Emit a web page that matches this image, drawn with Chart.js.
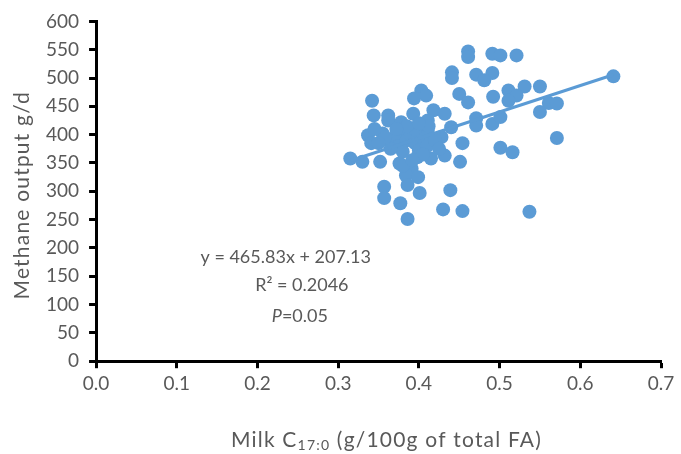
<!DOCTYPE html>
<html lang="en">
<head>
<meta charset="UTF-8">
<title>Methane output vs milk C17:0</title>
<script src="https://cdn.jsdelivr.net/npm/chart.js"></script>
<style>
    body { margin: 0; background: #fff; }
    #wrap { width: 681px; height: 454px; position: relative; }
</style>
</head>
<body>
<div id="wrap"><canvas id="chart"></canvas></div>
<script>
// milk C17:0 (g/100 g of total FA) and methane output (g/d) per cow
const milkC17 = [
    0.461, 0.461, 0.491, 0.501, 0.521, 0.441, 0.441, 0.471, 0.491, 0.481,
    0.511, 0.531, 0.550, 0.641, 0.450, 0.461, 0.492, 0.521, 0.511, 0.561,
    0.571, 0.550, 0.471, 0.471, 0.491, 0.501, 0.571, 0.501, 0.516, 0.454,
    0.342, 0.344, 0.362, 0.362, 0.378, 0.393, 0.403, 0.394, 0.409, 0.418,
    0.432, 0.411, 0.440, 0.337, 0.341, 0.355, 0.362, 0.382, 0.411, 0.428,
    0.315, 0.330, 0.352, 0.376, 0.391, 0.384, 0.399, 0.386, 0.357, 0.357,
    0.377, 0.401, 0.439, 0.430, 0.454, 0.386, 0.537, 0.415, 0.432, 0.451,
    0.370, 0.375, 0.380, 0.385, 0.390, 0.395, 0.400, 0.405, 0.410, 0.395,
    0.385, 0.372, 0.365, 0.398, 0.405, 0.420, 0.425, 0.380, 0.392, 0.358,
    0.350, 0.412, 0.400, 0.345
];
const methane = [
    547, 537, 543, 540, 540, 510, 500, 506, 509, 496,
    478, 485, 485, 503, 472, 457, 467, 469, 460, 456,
    455, 440, 429, 416, 419, 431, 394, 377, 369, 385,
    460, 434, 434, 425, 422, 437, 478, 464, 469, 443,
    437, 425, 413, 399, 385, 402, 390, 407, 407, 396,
    358, 352, 352, 349, 340, 328, 325, 311, 308, 288,
    279, 297, 302, 268, 265, 251, 264, 358, 363, 352,
    395, 380, 370, 390, 400, 385, 372, 395, 380, 410,
    415, 410, 375, 360, 365, 390, 375, 345, 355, 395,
    385, 415, 420, 410
];

// linear fit reported on the plot
const slope = 465.83;
const intercept = 207.13;
const fitFrom = 0.315;
const fitTo = 0.641;

const blue = '#5B9BD5';
const grey = '#595959';
const fontFamily = 'Lato, "Open Sans", sans-serif';

const points = milkC17.map((x, i) => ({ x: x, y: methane[i] }));
const fitLine = [fitFrom, fitTo].map(x => ({ x: x, y: slope * x + intercept }));

// equation, R² and P text plus both axis titles
const notes = {
    id: 'notes',
    afterDraw(chart) {
        const { ctx, chartArea, scales } = chart;
        const sx = v => scales.x.getPixelForValue(v);
        const sy = v => scales.y.getPixelForValue(v);
        ctx.save();
        ctx.fillStyle = grey;
        ctx.textBaseline = 'middle';
        ctx.textAlign = 'center';
        ctx.font = '18px ' + fontFamily;
        ctx.fillText('y = 465.83x + 207.13', sx(0.235), sy(184));
        ctx.fillText('R\u00b2 = 0.2046', sx(0.255), sy(135));

        // P=0.05 with italic P
        ctx.textAlign = 'left';
        ctx.font = 'italic 18px ' + fontFamily;
        const pW = ctx.measureText('P').width;
        ctx.font = '18px ' + fontFamily;
        const restW = ctx.measureText('=0.05').width;
        const px = sx(0.2525) - (pW + restW) / 2;
        ctx.font = 'italic 18px ' + fontFamily;
        ctx.fillText('P', px, sy(80));
        ctx.font = '18px ' + fontFamily;
        ctx.fillText('=0.05', px + pW, sy(80));

        ctx.letterSpacing = '1.2px';

        // x-axis title: Milk C17:0 (g/100g of total FA)
        const parts = [
            { t: 'Milk C', f: '21px ' + fontFamily, dy: 0 },
            { t: '17:0', f: '14px ' + fontFamily, dy: 5 },
            { t: ' (g/100g of total FA)', f: '21px ' + fontFamily, dy: 0 }
        ];
        let total = 0;
        parts.forEach(p => { ctx.font = p.f; p.w = ctx.measureText(p.t).width; total += p.w; });
        let tx = (chartArea.left + chartArea.right) / 2 - total / 2 + 8;
        const ty = 440;
        parts.forEach(p => {
            ctx.font = p.f;
            ctx.fillText(p.t, tx, ty + p.dy);
            tx += p.w;
        });

        // y-axis title
        ctx.translate(22, (chartArea.top + chartArea.bottom) / 2 + 4);
        ctx.rotate(-Math.PI / 2);
        ctx.textAlign = 'center';
        ctx.font = '21px ' + fontFamily;
        ctx.fillText('Methane output g/d', 0, 0);
        ctx.restore();
    }
};

const axisGrid = {
    drawOnChartArea: false,
    drawTicks: true,
    tickLength: 7,
    tickWidth: 3,
    tickColor: '#000'
};

new Chart(document.getElementById('chart'), {
    type: 'scatter',
    data: {
        datasets: [
            {
                type: 'line',
                data: fitLine,
                borderColor: blue,
                borderWidth: 3,
                pointRadius: 0,
                fill: false
            },
            {
                data: points,
                backgroundColor: blue,
                borderWidth: 0,
                pointRadius: 7,
                pointHoverRadius: 7
            }
        ]
    },
    options: {
        responsive: true,
        maintainAspectRatio: false,
        animation: false,
        layout: { padding: { left: 36, right: 20, top: 16, bottom: 55 } },
        plugins: {
            legend: { display: false },
            tooltip: { enabled: false }
        },
        scales: {
            x: {
                type: 'linear',
                min: 0,
                max: 0.7,
                border: { color: '#000', width: 3 },
                grid: axisGrid,
                ticks: {
                    stepSize: 0.1,
                    color: grey,
                    font: { size: 19, family: fontFamily },
                    padding: 4,
                    maxRotation: 0,
                    callback: v => v.toFixed(1)
                }
            },
            y: {
                min: 0,
                max: 600,
                border: { color: '#000', width: 3 },
                grid: axisGrid,
                ticks: {
                    stepSize: 50,
                    color: grey,
                    font: { size: 19, family: fontFamily },
                    padding: 10
                }
            }
        }
    },
    plugins: [notes]
});
</script>
</body>
</html>
